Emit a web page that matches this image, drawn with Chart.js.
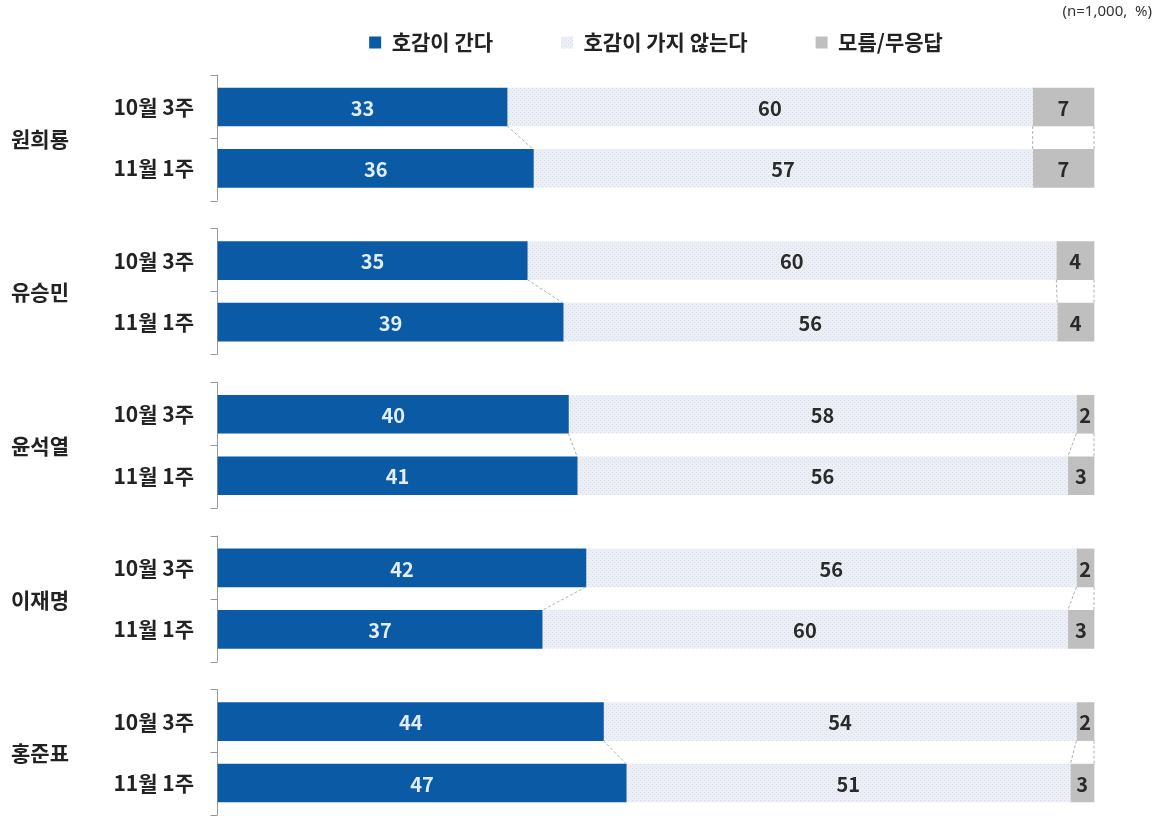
<!DOCTYPE html>
<html>
<head>
<meta charset="utf-8">
<script src="https://cdn.jsdelivr.net/npm/chart.js@4.4.1/dist/chart.umd.min.js"></script>
<style>
  html, body { margin: 0; padding: 0; background: #ffffff; }
  #wrap { width: 1159px; height: 820px; position: relative; }
</style>
</head>
<body>
<div id="wrap"><canvas id="c"></canvas></div>
<script>
// ---------- data ----------
const candidates = ['원희룡', '유승민', '윤석열', '이재명', '홍준표'];
const weeks = ['10월 3주', '11월 1주'];
const seriesNames = ['호감이 간다', '호감이 가지 않는다', '모름/무응답'];
const favorable   = [33, 36, 35.3, 39.4, 40, 41, 42, 37, 44, 46.6];
const unfavorable = [60, 57, 60.4, 56.4, 58, 56, 56, 60, 54, 50.7];
const unknown     = [7, 7, 4.3, 4.2, 2, 3, 2, 3, 2, 2.7];
const noteText = '(n=1,000,  %)';

// ---------- layout helpers (category slots with spacers) ----------
const KR = '"Noto Sans CJK KR", "Noto Sans", sans-serif';
const SPACER_IN = 1, SPACER_BETWEEN = 2;
const labels = [];
const rowSlot = [];
candidates.forEach((c, g) => {
  weeks.forEach((w, k) => {
    if (k > 0) for (let s = 0; s < SPACER_IN; s++) labels.push('');
    rowSlot.push(labels.length);
    labels.push(w);
  });
  if (g < candidates.length - 1) for (let s = 0; s < SPACER_BETWEEN; s++) labels.push('');
});
function spread(values) {
  const arr = labels.map(() => null);
  rowSlot.forEach((slot, i) => { arr[slot] = values[i]; });
  return arr;
}

const canvas = document.getElementById('c');
function dotPattern() {
  const p = document.createElement('canvas');
  p.width = 4; p.height = 4;
  const x = p.getContext('2d');
  x.fillStyle = '#ecf0f6'; x.fillRect(0, 0, 4, 4);
  x.fillStyle = '#d5dbe7'; x.fillRect(0, 0, 1, 1); x.fillRect(2, 2, 1, 1);
  return canvas.getContext('2d').createPattern(p, 'repeat');
}
const fills = ['#0b5aa5', dotPattern(), '#bfbfbf'];
const labelColors = ['#e3edf8', '#2a2a2a', '#2a2a2a'];

const datasets = [favorable, unfavorable, unknown].map((vals, i) => ({
  label: seriesNames[i],
  data: spread(vals),
  backgroundColor: fills[i],
  borderColor: 'transparent',
  borderWidth: 0,
  barThickness: 38,
  clip: false
}));

// ---------- plugins ----------
const legendSpace = {
  id: 'legendSpace',
  afterInit(chart) {
    const lg = chart.legend;
    if (!lg) return;
    const fit = lg.fit;
    lg.fit = function () { fit.call(this); this.height = 127.6; };
  }
};

const brackets = {
  id: 'brackets',
  beforeDatasetsDraw(chart) {
    const y = chart.scales.y, ctx = chart.ctx;
    const unit = y.getPixelForValue(1) - y.getPixelForValue(0);
    const x = Math.round(chart.chartArea.left) - 0.5;
    ctx.save();
    ctx.strokeStyle = '#9a9a9a';
    ctx.lineWidth = 1;
    candidates.forEach((c, g) => {
      const y0 = y.getPixelForValue(rowSlot[2 * g]);
      const y1 = y.getPixelForValue(rowSlot[2 * g + 1]);
      const top = y0 - 1.05 * unit, bot = y1 + 1.05 * unit, mid = (y0 + y1) / 2;
      ctx.beginPath();
      ctx.moveTo(x, top); ctx.lineTo(x, bot);
      [top, mid, bot].forEach(t => {
        const ty = Math.round(t) + 0.5;
        ctx.moveTo(x - 7, ty); ctx.lineTo(x, ty);
      });
      ctx.stroke();
      ctx.fillStyle = '#222';
      ctx.font = 'bold 21px ' + KR;
      ctx.textAlign = 'left';
      ctx.textBaseline = 'middle';
      ctx.fillText(c, 11, mid + 1);
    });
    ctx.restore();
  }
};

const connectors = {
  id: 'connectors',
  afterDatasetsDraw(chart) {
    const ctx = chart.ctx;
    ctx.save();
    ctx.strokeStyle = '#b0b0b0';
    ctx.lineWidth = 1;
    ctx.setLineDash([3, 2]);
    candidates.forEach((c, g) => {
      const a = rowSlot[2 * g], b = rowSlot[2 * g + 1];
      chart.data.datasets.forEach((ds, di) => {
        const meta = chart.getDatasetMeta(di);
        const ea = meta.data[a], eb = meta.data[b];
        ctx.beginPath();
        ctx.moveTo(ea.x, ea.y + ea.height / 2);
        ctx.lineTo(eb.x, eb.y - eb.height / 2);
        ctx.stroke();
      });
    });
    ctx.restore();
  }
};

const valueLabels = {
  id: 'valueLabels',
  afterDatasetsDraw(chart) {
    const ctx = chart.ctx;
    ctx.save();
    ctx.textAlign = 'center';
    ctx.textBaseline = 'middle';
    chart.data.datasets.forEach((ds, di) => {
      chart.getDatasetMeta(di).data.forEach((el, i) => {
        const v = ds.data[i];
        if (v == null) return;
        ctx.fillStyle = labelColors[di];
        ctx.font = 'bold 20px ' + KR;
        ctx.fillText(String(Math.round(v)), (el.x + el.base) / 2, el.y + 1);
      });
    });
    ctx.restore();
  }
};

const note = {
  id: 'note',
  afterDraw(chart) {
    const ctx = chart.ctx;
    ctx.save();
    ctx.font = '15px "Noto Sans", sans-serif';
    ctx.fillStyle = '#333';
    ctx.textAlign = 'right';
    ctx.textBaseline = 'middle';
    ctx.fillText(noteText, 1152, 12);
    ctx.restore();
  }
};

// ---------- chart ----------
new Chart(canvas, {
  type: 'bar',
  data: { labels, datasets },
  plugins: [legendSpace, brackets, connectors, valueLabels, note],
  options: {
    indexAxis: 'y',
    responsive: true,
    maintainAspectRatio: false,
    animation: false,
    events: [],
    layout: { padding: { top: -36, right: 65, bottom: 21.6, left: 0 } },
    scales: {
      x: { type: 'linear', stacked: true, min: 0, max: 100, display: false },
      y: {
        type: 'category',
        stacked: true,
        offset: true,
        grid: { display: false, drawTicks: true, tickLength: 22 },
        border: { display: false },
        ticks: {
          autoSkip: false,
          padding: 2,
          color: '#222',
          font: { family: KR, size: 21, weight: 'bold' }
        },
        afterFit(scale) { scale.width = 218; }
      }
    },
    plugins: {
      tooltip: { enabled: false },
      legend: {
        position: 'top',
        fullSize: false,
        labels: {
          boxWidth: 12,
          boxHeight: 12,
          padding: 68,
          color: '#222',
          font: { family: KR, size: 21, weight: 'bold' }
        }
      }
    }
  }
});
</script>
</body>
</html>
